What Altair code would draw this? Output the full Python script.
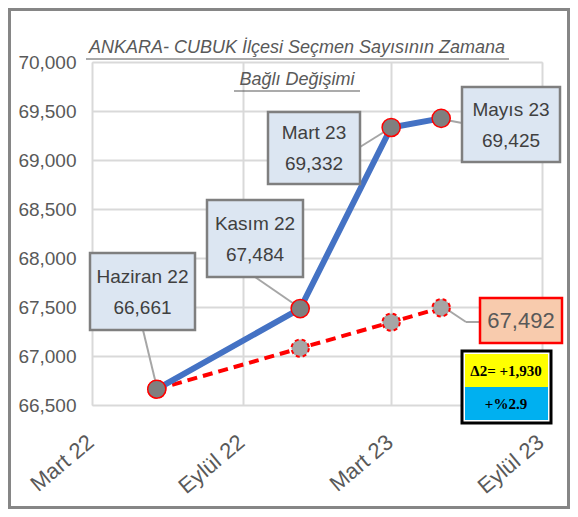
import altair as alt
import pandas as pd

# ---- data ----
dates = ["2022-05-19", "2022-11-10", "2023-03-01", "2023-05-01"]
period_labels = ["Haziran 22", "Kasım 22", "Mart 23", "Mayıs 23"]
voters = [66661, 67484, 69332, 69425]
second_series = [66661, 67080, 67345, 67492]

tick_dates = ["2022-03-01", "2022-09-01", "2023-03-01", "2023-09-01"]
tick_labels = ["Mart 22", "Eylül 22", "Mart 23", "Eylül 23"]
y_ticks = [66500, 67000, 67500, 68000, 68500, 69000, 69500, 70000]

title_lines = ["ANKARA- CUBUK İlçesi Seçmen Sayısının Zamana", "Bağlı Değişimi"]
delta_lines = ["Δ2= +1,930", "+%2.9"]

df = pd.DataFrame({"date": dates, "label": period_labels,
                   "v1": voters, "v2": second_series})
one = pd.DataFrame({"a": [1]})

FONT = "Liberation Sans"
GRAY = "#595959"
W, H = 450, 343
OX, OY = 92, 62  # page coords of plot origin (for annotation helpers)

def ux(X):
    return X - OX

def uy(Y):
    return Y - OY

label_expr = " : ".join(
    f"utcFormat(datum.value, '%Y-%m') == '{d[:7]}' ? '{l}'" for d, l in zip(tick_dates, tick_labels)
) + " : ''"

x_enc = alt.X("date:T", title=None,
              scale=alt.Scale(type="utc", domain=[alt.DateTime(year=2022, month=3, date=1, utc=True),
                                                  alt.DateTime(year=2023, month=9, date=1, utc=True)]),
              axis=alt.Axis(values=[alt.DateTime(year=int(d[:4]), month=int(d[5:7]), date=1, utc=True) for d in tick_dates],
                            labelExpr=label_expr, labelAngle=320, labelFontSize=22,
                            labelColor=GRAY, labelFont=FONT, labelPadding=26,
                            labelOffset=-8,
                            labelAlign="right", labelBaseline="top",
                            grid=True, gridColor="#d9d9d9", gridWidth=2,
                            domain=False, ticks=False))
y_scale = alt.Scale(domain=[66500, 70000])
y_axis = alt.Axis(values=y_ticks, format=",.0f", labelFontSize=19, labelColor=GRAY,
                  labelFont=FONT, labelPadding=16, grid=True, gridColor="#d9d9d9",
                  gridWidth=2, domain=False, ticks=False)

base = alt.Chart(df)

line2 = base.mark_line(color="#ff0000", strokeWidth=4, strokeDash=[10, 6]).encode(
    x=x_enc, y=alt.Y("v2:Q", scale=y_scale, axis=y_axis, title=None))
line1 = base.mark_line(color="#4472c4", strokeWidth=6).encode(
    x="date:T", y=alt.Y("v1:Q", scale=y_scale))
pts2 = base.mark_point(filled=True, fill="#a6a6a6", stroke="#ff0000", strokeWidth=2,
                       strokeDash=[4, 3], size=300, opacity=1, shape="circle").encode(
    x="date:T", y=alt.Y("v2:Q", scale=y_scale))
pts1 = base.mark_point(filled=True, fill="#7f7f7f", stroke="#ff0000", strokeWidth=1.5,
                       size=330, opacity=1, shape="circle").encode(
    x="date:T", y=alt.Y("v1:Q", scale=y_scale))


def seg(x1, y1, x2, y2, color="#a6a6a6", w=2):
    return alt.Chart(one).mark_rule(color=color, strokeWidth=w).encode(
        x=alt.value(ux(x1)), y=alt.value(uy(y1)), x2=alt.value(ux(x2)), y2=alt.value(uy(y2)))


def box(x1, y1, x2, y2, fill, stroke, w=2):
    return alt.Chart(one).mark_rect(fill=fill, stroke=stroke, strokeWidth=w).encode(
        x=alt.value(ux(x1)), y=alt.value(uy(y1)), x2=alt.value(ux(x2)), y2=alt.value(uy(y2)))


def txt(X, Y, s, size=20, color="#404040", font=FONT, weight="normal", style="normal"):
    return alt.Chart(one).mark_text(text=s, fontSize=size, color=color, font=font,
                                    fontWeight=weight, fontStyle=style,
                                    align="center", baseline="middle").encode(
        x=alt.value(ux(X)), y=alt.value(uy(Y)))


layers = []
# leader lines
layers += [seg(157, 388, 143, 330), seg(300, 308, 255, 277),
           seg(392, 127, 360, 147), seg(441, 119, 462, 123),
           seg(442, 306, 466, 322), seg(466, 322, 480, 322)]
layers += [line2, line1, pts2, pts1]

# callout boxes
BOXF, BOXS = "#dce6f2", "#7f7f7f"
callouts = [(90, 253, 195, 330), (207, 200, 303, 277), (268, 112, 360, 184), (462, 87, 560, 162)]
for (x1, y1, x2, y2), lab, v in zip(callouts, period_labels, voters):
    layers.append(box(x1, y1, x2, y2, BOXF, BOXS, 2.5))
    cx = (x1 + x2) / 2
    cy = (y1 + y2) / 2
    layers.append(txt(cx, cy - 15, lab, size=19))
    layers.append(txt(cx, cy + 16, f"{v:,}", size=19))

layers.append(box(480, 298, 562, 343, "#f8cbad", "#ff0000", 2.5))
layers.append(txt(521, 321, f"{second_series[-1]:,}", size=22, color=GRAY))

layers.append(box(462, 351, 551, 423, "#ffffff", "#000000", 3))
layers.append(box(465, 354, 548, 387, "#ffff00", "#ffff00", 0))
layers.append(box(465, 387, 548, 420, "#00b0f0", "#00b0f0", 0))
layers.append(txt(506, 371, delta_lines[0], size=15, color="#000000",
                  font="Liberation Serif", weight="bold"))
layers.append(txt(506, 404, delta_lines[1], size=15, color="#000000",
                  font="Liberation Serif", weight="bold"))

# title with underline
layers.append(txt(297, 48, title_lines[0], size=18, color=GRAY, style="italic"))
layers.append(txt(297, 80, title_lines[1], size=18, color=GRAY, style="italic"))
layers.append(seg(86, 59, 509, 59, color=GRAY, w=1.2))
layers.append(seg(234, 91, 360, 91, color=GRAY, w=1.2))

# outer chart border
layers.append(box(9.5, 9.5, 568.5, 507.5, "transparent", "#868686", 3))

chart = alt.layer(*layers).properties(
    width=W, height=H,
    autosize=alt.AutoSizeParams(type="none"),
    padding={"left": 84, "top": 54, "right": 28, "bottom": 104},
).configure_view(stroke=None).configure(background="#ffffff")

chart.save("out.html", embed_options={"renderer": "svg", "actions": False})
